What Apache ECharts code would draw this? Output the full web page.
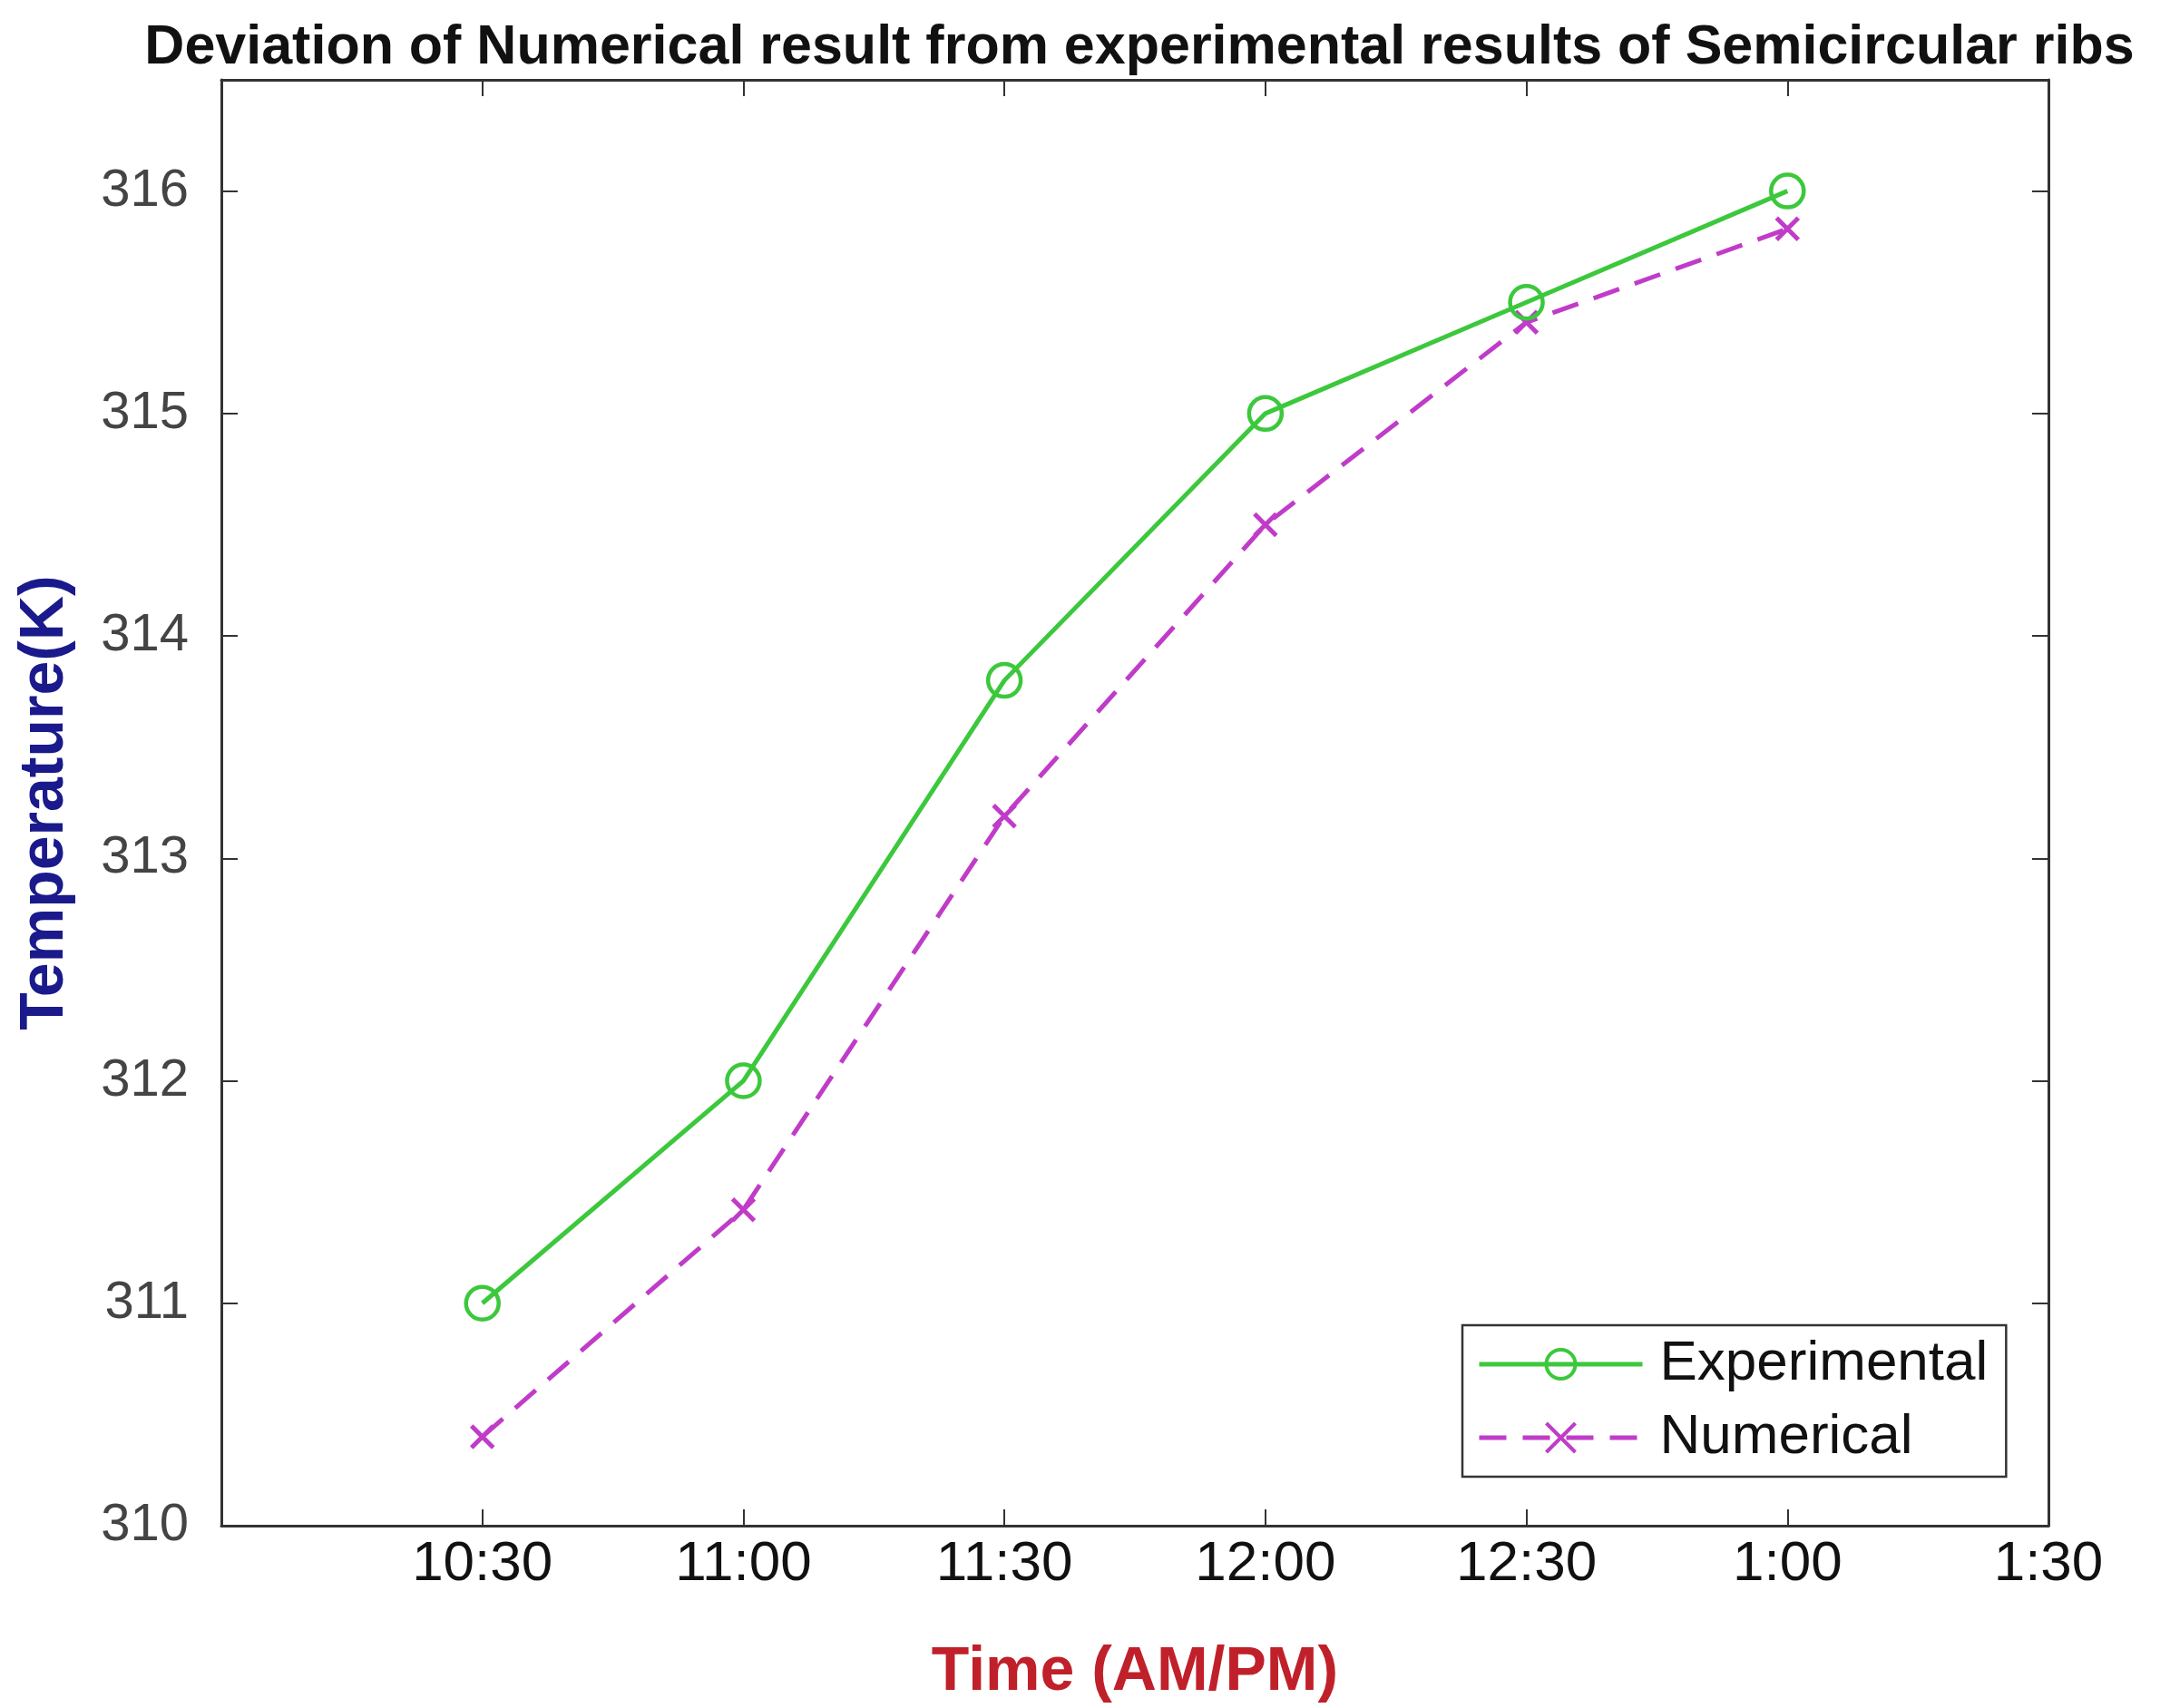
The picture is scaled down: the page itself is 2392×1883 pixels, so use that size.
<!DOCTYPE html>
<html>
<head>
<meta charset="utf-8">
<script src="https://cdn.jsdelivr.net/npm/echarts@6/dist/echarts.min.js"></script>
<style>html,body{margin:0;padding:0;background:#fff;}#c{width:2392px;height:1883px;}</style>
</head>
<body>
<div id="c"></div>
<script>
const categories = ['', '10:30', '11:00', '11:30', '12:00', '12:30', '1:00', '1:30'];
const experimental = [null, 311.0, 312.0, 313.8, 315.0, 315.5, 316.0, null];
const numerical = [null, 310.4, 311.42, 313.19, 314.5, 315.41, 315.83, null];
const yTicks = [310, 311, 312, 313, 314, 315, 316];

const FONT = 'Liberation Sans, Arial, sans-serif';
const axisLine = { show: true, lineStyle: { color: '#333', width: 3 } };
const tick = { show: true, inside: true, length: 18, lineStyle: { color: '#333', width: 2 } };

const chart = echarts.init(document.getElementById('c'));
chart.setOption({
  backgroundColor: '#fff',
  animation: false,
  title: {
    text: 'Deviation of Numerical result from experimental results of Semicircular ribs',
    left: 1251, top: 18, textAlign: 'center',
    textStyle: { fontFamily: FONT, fontWeight: 'bold', fontSize: 61, color: '#111' }
  },
  grid: { left: 244, right: 134, top: 88, bottom: 200, containLabel: false },
  legend: {
    orient: 'vertical',
    left: 1612, top: 1461,
    padding: [10, 20, 10, 16],
    itemGap: 15,
    itemWidth: 180, itemHeight: 40,
    borderColor: '#333', borderWidth: 2.5,
    backgroundColor: '#fff',
    lineStyle: { width: 5 },
    itemStyle: { borderWidth: 4 },
    textStyle: { fontFamily: FONT, fontSize: 62, color: '#111', lineHeight: 66, padding: [0, 0, 0, 14] },
    data: ['Experimental', 'Numerical']
  },
  xAxis: [{
    type: 'category', data: categories, boundaryGap: false, position: 'bottom',
    axisLine: axisLine, axisTick: Object.assign({}, tick, { alignWithLabel: true }),
    axisLabel: { fontFamily: FONT, fontSize: 62, color: '#111', margin: 12, interval: 0 },
    splitLine: { show: false },
    name: 'Time (AM/PM)', nameLocation: 'middle', nameGap: 128,
    nameTextStyle: { fontFamily: FONT, fontWeight: 'bold', fontSize: 68, color: '#c0202a' }
  }, {
    type: 'category', data: categories, boundaryGap: false, position: 'top',
    axisLine: axisLine, axisTick: tick, axisLabel: { show: false }, splitLine: { show: false }
  }],
  yAxis: [{
    type: 'value', min: 310, max: 316.5, interval: 1, position: 'left',
    axisLine: axisLine, axisTick: tick,
    axisLabel: {
      fontFamily: FONT, fontSize: 58, color: '#444', margin: 36,
      formatter: v => (yTicks.indexOf(v) >= 0 ? String(v) : '')
    },
    splitLine: { show: false },
    name: 'Temperature(K)', nameLocation: 'middle', nameGap: 160,
    nameTextStyle: { fontFamily: FONT, fontWeight: 'bold', fontSize: 68, color: '#1a1a8c' }
  }, {
    type: 'value', min: 310, max: 316.5, interval: 1, position: 'right',
    axisLine: axisLine, axisTick: tick, axisLabel: { show: false }, splitLine: { show: false }
  }],
  series: [{
    name: 'Experimental', type: 'line', data: experimental,
    xAxisIndex: 0, yAxisIndex: 0,
    symbol: 'circle', symbolSize: 36, showAllSymbol: true,
    lineStyle: { color: '#3cc83c', width: 5 },
    itemStyle: { color: 'rgba(255,255,255,0)', borderColor: '#3cc83c', borderWidth: 4.5 },
    z: 3
  }, {
    name: 'Numerical', type: 'line', data: numerical,
    xAxisIndex: 0, yAxisIndex: 0,
    symbol: 'path://M0,0L10,10M10,0L0,10', symbolSize: 24, showAllSymbol: true,
    lineStyle: { color: '#c03cc8', width: 5, type: [30, 18] },
    itemStyle: { color: 'rgba(0,0,0,0)', borderColor: '#c03cc8', borderWidth: 5 },
    z: 2
  }]
});
</script>
</body>
</html>
